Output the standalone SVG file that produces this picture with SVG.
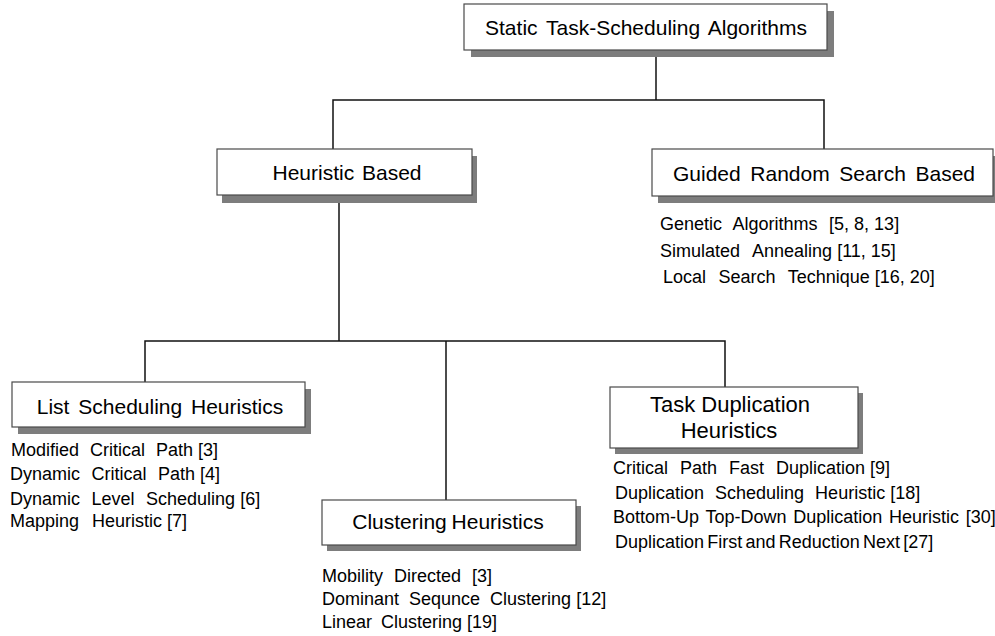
<svg xmlns="http://www.w3.org/2000/svg" width="995" height="636" viewBox="0 0 995 636">
<style>
.bg{fill:#ffffff}
.shadow{fill:#7d7d7d;stroke:none}
.box{fill:#ffffff;stroke:#4a4a4a;stroke-width:1.2}
.conn{stroke:#111111;stroke-width:1.5;fill:none}
.title{font-family:"Liberation Sans",Arial,sans-serif;font-size:21px;fill:#000000;text-anchor:middle}
.item{font-family:"Liberation Sans",Arial,sans-serif;font-size:18px;fill:#000000}
</style>
<rect class="bg" x="0" y="0" width="995" height="636"/>
<g id="connectors">
<path class="conn" d="M656,57 V100"/>
<path class="conn" d="M333,149 V100 H824 V149"/>
<path class="conn" d="M339,203 V341"/>
<path class="conn" d="M145,382 V341 H725 V387"/>
<path class="conn" d="M446,341 V500"/>
</g>
<g id="static">
<rect class="shadow" x="471" y="11" width="363" height="46"/>
<rect class="box" x="464" y="4" width="363" height="46"/>
<text class="title" x="646" y="35" word-spacing="3">Static Task-Scheduling Algorithms</text>
</g>
<g id="heuristic">
<rect class="shadow" x="222" y="156" width="255" height="47"/>
<rect class="box" x="217" y="149" width="255" height="46"/>
<text class="title" x="347" y="180" word-spacing="2">Heuristic Based</text>
</g>
<g id="guided">
<rect class="shadow" x="658" y="156" width="341" height="47"/>
<rect class="box" x="652" y="149" width="341" height="47"/>
<text class="title" x="824" y="181" word-spacing="3.8">Guided Random Search Based</text>
<text class="item" x="660" y="230" word-spacing="6.5">Genetic Algorithms <tspan word-spacing="0">[5, 8, 13]</tspan></text>
<text class="item" x="660" y="257" word-spacing="8">Simulated Annealing<tspan word-spacing="0"> [11, 15]</tspan></text>
<text class="item" x="663" y="283" word-spacing="7.5">Local Search Technique<tspan word-spacing="0"> [16, 20]</tspan></text>
</g>
<g id="list">
<rect class="shadow" x="18" y="389" width="293" height="45"/>
<rect class="box" x="12" y="382" width="293" height="45"/>
<text class="title" x="160" y="414" word-spacing="3">List Scheduling Heuristics</text>
<text class="item" x="11" y="456" word-spacing="6">Modified Critical Path<tspan word-spacing="0"> [3]</tspan></text>
<text class="item" x="10" y="480" word-spacing="6.5">Dynamic Critical Path<tspan word-spacing="0"> [4]</tspan></text>
<text class="item" x="10" y="505" word-spacing="6.5">Dynamic Level Scheduling<tspan word-spacing="0"> [6]</tspan></text>
<text class="item" x="10" y="527" word-spacing="8">Mapping Heuristic<tspan word-spacing="0"> [7]</tspan></text>
</g>
<g id="clustering">
<rect class="shadow" x="327" y="506" width="254" height="45"/>
<rect class="box" x="322" y="500" width="254" height="45"/>
<text class="title" x="448" y="529" word-spacing="-1">Clustering Heuristics</text>
<text class="item" x="322" y="582" word-spacing="6">Mobility Directed [3]</text>
<text class="item" x="322" y="605" word-spacing="5">Dominant Sequnce Clustering<tspan word-spacing="0"> [12]</tspan></text>
<text class="item" x="322" y="628" word-spacing="4">Linear Clustering<tspan word-spacing="0"> [19]</tspan></text>
</g>
<g id="duplication">
<rect class="shadow" x="615" y="393" width="248" height="61"/>
<rect class="box" x="610" y="387" width="248" height="61"/>
<text class="title" x="730" y="412" style="font-size:22px">Task Duplication</text>
<text class="title" x="729" y="438" style="font-size:22px">Heuristics</text>
<text class="item" x="613" y="474" word-spacing="7">Critical Path Fast Duplication<tspan word-spacing="0"> [9]</tspan></text>
<text class="item" x="615" y="499" word-spacing="6">Duplication Scheduling Heuristic<tspan word-spacing="0"> [18]</tspan></text>
<text class="item" x="613" y="523" word-spacing="1.75">Bottom-Up Top-Down Duplication Heuristic [30]</text>
<text class="item" x="615" y="548" word-spacing="-1.8">Duplication First and Reduction Next [27]</text>
</g>
</svg>
